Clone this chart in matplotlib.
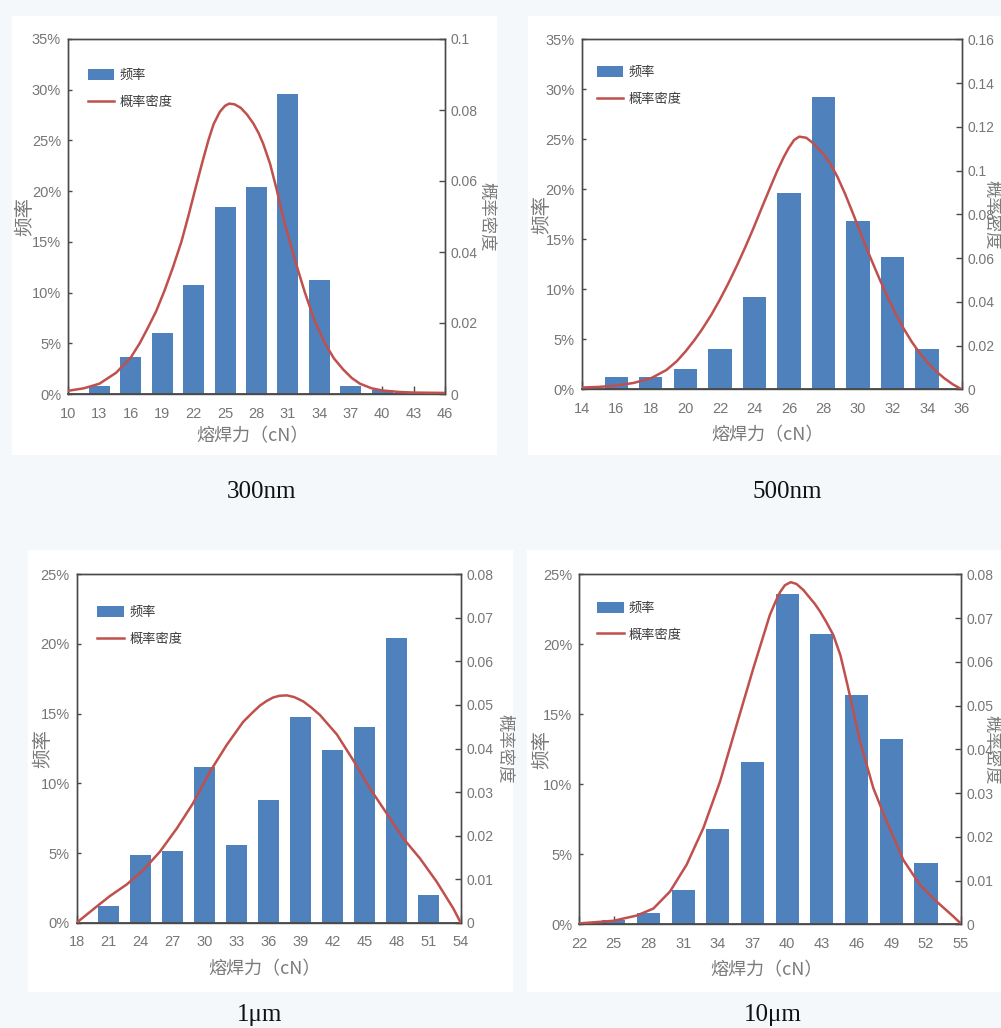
import matplotlib
matplotlib.use("Agg")
import matplotlib.pyplot as plt
from matplotlib.patches import Rectangle
from matplotlib import font_manager
from matplotlib.ticker import FuncFormatter

# ---------------- data ----------------
# 300nm
p1_ticks = [10, 13, 16, 19, 22, 25, 28, 31, 34, 37, 40, 43, 46]
p1_bar_x = [13, 16, 19, 22, 25, 28, 31, 34, 37, 40]
p1_bar_pct = [0.8, 3.6, 6.05, 10.75, 18.4, 20.4, 29.6, 11.2, 0.8, 0.4]
p1_curve_x = [10, 11.5, 13.0, 14.6, 16.0, 16.85, 17.6, 18.4, 19.2, 20.0, 20.83, 21.5, 22.1,
              22.8, 23.4, 23.9, 24.5, 25.0, 25.4, 25.9, 26.5, 27.1, 27.7, 28.2, 28.64, 29.3,
              29.91, 30.5, 31.18, 31.9, 32.62, 33.5, 34.53, 35.4, 36.28, 37.1, 37.88, 39.0,
              40, 41.5, 43, 46]
p1_curve_d = [0.0009, 0.0016, 0.0029, 0.0060, 0.0103, 0.0143, 0.0185, 0.0232, 0.0290, 0.0355,
              0.0429, 0.0502, 0.0571, 0.0650, 0.0714, 0.0760, 0.0795, 0.0812, 0.0818, 0.0816,
              0.0806, 0.0787, 0.0762, 0.0735, 0.0705, 0.0648, 0.0578, 0.0503, 0.0429, 0.0355,
              0.0286, 0.0210, 0.0143, 0.0100, 0.0069, 0.0045, 0.0029, 0.0016, 0.0010, 0.0006,
              0.0004, 0.0003]

# 500nm
p2_ticks = [14, 16, 18, 20, 22, 24, 26, 28, 30, 32, 34, 36]
p2_bar_x = [16, 18, 20, 22, 24, 26, 28, 30, 32, 34]
p2_bar_pct = [1.2, 1.2, 2.0, 4.0, 9.2, 19.6, 29.2, 16.8, 13.2, 4.0]
p2_curve_x = [14, 15, 16, 17, 18, 18.9, 19.5, 20.0, 20.5, 20.95, 21.5, 22.0, 22.5, 23.0, 23.5,
              23.95, 24.4, 24.9, 25.3, 25.7, 26.0, 26.3, 26.6, 27.0, 27.4, 28.0, 28.4, 28.8,
              29.25, 29.75, 30.2, 30.7, 31.2, 31.65, 32.1, 32.6, 33.1, 33.6, 34.0, 34.55,
              35.0, 35.5, 36]
p2_curve_d = [0.0008, 0.0011, 0.0017, 0.0029, 0.0050, 0.0088, 0.0128, 0.0172, 0.0222, 0.0272,
              0.0340, 0.0410, 0.0486, 0.0568, 0.0655, 0.0738, 0.0825, 0.0920, 0.0995, 0.1062,
              0.1105, 0.1140, 0.1155, 0.1150, 0.1125, 0.1075, 0.1030, 0.0972, 0.0893, 0.0795,
              0.0703, 0.0605, 0.0512, 0.0432, 0.0357, 0.0283, 0.0218, 0.0162, 0.0124, 0.0080,
              0.0050, 0.0022, 0.0]

# 1um
p3_ticks = [18, 21, 24, 27, 30, 33, 36, 39, 42, 45, 48, 51, 54]
p3_bar_x = [21, 24, 27, 30, 33, 36, 39, 42, 45, 48, 51]
p3_bar_pct = [1.2, 4.86, 5.17, 11.2, 5.57, 8.78, 14.78, 12.39, 14.07, 20.4, 1.99]
p3_curve_x = [18, 19.56, 21.1, 22.7, 24.25, 25.8, 27.4, 28.9, 30.5, 32.06, 33.6, 34.5, 35.2,
              35.8, 36.4, 37.0, 37.7, 38.4, 39.25, 40.0, 40.8, 42.4, 43.9, 45.5, 47.06, 48.6,
              50.2, 51.75, 53.3, 54]
p3_curve_d = [0.0, 0.0031, 0.0061, 0.0088, 0.0121, 0.0163, 0.0217, 0.0274, 0.0347, 0.0408,
              0.0461, 0.0483, 0.0499, 0.0509, 0.0517, 0.0521, 0.0522, 0.0518, 0.0508, 0.0494,
              0.0477, 0.0432, 0.0374, 0.0308, 0.0251, 0.0194, 0.0147, 0.0094, 0.0033, 0.0]

# 10um
p4_ticks = [22, 25, 28, 31, 34, 37, 40, 43, 46, 49, 52, 55]
p4_bar_x = [25, 28, 31, 34, 37, 40, 43, 46, 49, 52]
p4_bar_pct = [0.33, 0.79, 2.45, 6.8, 11.57, 23.57, 20.74, 16.38, 13.21, 4.36]
p4_curve_x = [22, 24.97, 26.99, 28.43, 29.87, 31.3, 32.75, 34.19, 35.63, 37.07, 38.5, 39.0,
              39.4, 39.8, 40.3, 40.8, 41.4, 41.9, 42.4, 42.84, 43.4, 43.99, 44.6, 45.14, 45.7,
              46.29, 47.45, 48.6, 50.04, 51.48, 52.92, 54.36, 55]
p4_curve_d = [0.0002, 0.0008, 0.0020, 0.0036, 0.0075, 0.0136, 0.0220, 0.0326, 0.0456, 0.0585,
              0.0707, 0.0738, 0.0760, 0.0775, 0.0782, 0.0778, 0.0764, 0.0748, 0.0732, 0.0715,
              0.0690, 0.0661, 0.0615, 0.0555, 0.0490, 0.0418, 0.0311, 0.0235, 0.0147, 0.0090,
              0.0052, 0.0018, 0.0002]

left_ticks_35 = [0, 5, 10, 15, 20, 25, 30, 35]
left_ticks_25 = [0, 5, 10, 15, 20, 25]
right_ticks_p1 = [0, 0.02, 0.04, 0.06, 0.08, 0.1]
right_ticks_p2 = [0, 0.02, 0.04, 0.06, 0.08, 0.1, 0.12, 0.14, 0.16]
right_ticks_p34 = [0, 0.01, 0.02, 0.03, 0.04, 0.05, 0.06, 0.07, 0.08]

captions = ["300nm", "500nm", "1μm", "10μm"]
legend_labels = ["频率", "概率密度"]
xlabel_text = "熔焊力（cN）"
ylabel_left = "频率"
ylabel_right = "概率密度"

# ---------------- style ----------------
W, H = 1001, 1028
avail = {f.name for f in font_manager.fontManager.ttflist}
num_font = next((f for f in ["Liberation Sans Narrow", "DejaVu Sans Condensed",
                             "Liberation Sans"] if f in avail), "DejaVu Sans")
CJK = "Noto Sans CJK SC"
plt.rcParams["font.family"] = [num_font, CJK, "DejaVu Sans"]

BAR = "#4f81bd"
LINE = "#c0504d"
TICKC = "#767676"
TITLEC = "#7a7a7a"
SPINE = "#4a4a4a"

fig = plt.figure(figsize=(W / 100, H / 100), dpi=100)
fig.patch.set_facecolor("#f4f8fb")

panels = [(12, 16, 497, 455), (528, 16, 1001, 455), (28, 550, 513, 992), (527, 550, 1001, 992)]
for (x0, y0, x1, y1) in panels:
    fig.add_artist(Rectangle((x0 / W, 1 - y1 / H), (x1 - x0) / W, (y1 - y0) / H,
                             transform=fig.transFigure, facecolor="white",
                             edgecolor="none", zorder=0))

axes_px = [(68, 39, 445, 394), (581.7, 39.3, 961.7, 389.3),
           (76.7, 574.3, 460.7, 922.7), (579, 574.3, 960.7, 924.3)]

specs = [
    dict(ticks=p1_ticks, bx=p1_bar_x, by=p1_bar_pct, cx=p1_curve_x, cy=p1_curve_d, bw=2.0,
         lt=left_ticks_35, rt=right_ticks_p1, ylab=(-0.114, 1.111), leg=(0.053, 0.916),
         xlab=-0.118),
    dict(ticks=p2_ticks, bx=p2_bar_x, by=p2_bar_pct, cx=p2_curve_x, cy=p2_curve_d, bw=1.35,
         lt=left_ticks_35, rt=right_ticks_p2, ylab=(-0.105, 1.078), leg=(0.040, 0.923),
         xlab=-0.131),
    dict(ticks=p3_ticks, bx=p3_bar_x, by=p3_bar_pct, cx=p3_curve_x, cy=p3_curve_d, bw=1.95,
         lt=left_ticks_25, rt=right_ticks_p34, ylab=(-0.089, 1.113), leg=(0.054, 0.910),
         xlab=-0.135),
    dict(ticks=p4_ticks, bx=p4_bar_x, by=p4_bar_pct, cx=p4_curve_x, cy=p4_curve_d, bw=2.0,
         lt=left_ticks_25, rt=right_ticks_p34, ylab=(-0.098, 1.082), leg=(0.048, 0.922),
         xlab=-0.131),
]

for (l, t, r, b), s in zip(axes_px, specs):
    ax = fig.add_axes([l / W, 1 - b / H, (r - l) / W, (b - t) / H])
    ax.set_facecolor("white")
    bars = ax.bar(s["bx"], s["by"], width=s["bw"], color=BAR, zorder=2)
    ax.set_xlim(s["ticks"][0], s["ticks"][-1])
    ax.set_xticks(s["ticks"])
    ax.set_ylim(s["lt"][0], s["lt"][-1])
    ax.set_yticks(s["lt"])
    ax.yaxis.set_major_formatter(FuncFormatter(lambda v, p: f"{v:g}%"))
    ax.tick_params(axis="x", direction="in", length=6, width=1, color=SPINE,
                   labelcolor=TICKC, labelsize=10.5, pad=9)
    ax.tick_params(axis="y", direction="in", length=3, width=1, color=SPINE,
                   labelcolor=TICKC, labelsize=10.5, pad=5)
    for sp in ax.spines.values():
        sp.set_color(SPINE)
        sp.set_linewidth(1.0)
    ax.spines["bottom"].set_linewidth(1.3)

    ax2 = ax.twinx()
    line, = ax2.plot(s["cx"], s["cy"], color=LINE, lw=1.8, zorder=3,
                     solid_joinstyle="round")
    ax2.set_ylim(s["rt"][0], s["rt"][-1])
    ax2.set_yticks(s["rt"])
    ax2.yaxis.set_major_formatter(FuncFormatter(lambda v, p: f"{v:g}"))
    ax2.tick_params(axis="y", direction="in", length=4, width=1, color=SPINE,
                    labelcolor=TICKC, labelsize=10, pad=4)
    for sp in ax2.spines.values():
        sp.set_color(SPINE)
        sp.set_linewidth(1.0)

    ax.set_xlabel(xlabel_text, family=[CJK], fontsize=13, color=TITLEC)
    ax.xaxis.set_label_coords(0.49, s["xlab"])
    ax.xaxis.label.set_va("center")
    ax.set_ylabel(ylabel_left, family=[CJK], fontsize=14, color=TITLEC)
    ax.yaxis.set_label_coords(s["ylab"][0], 0.5)
    ax.yaxis.label.set_va("center")
    ax2.set_ylabel(ylabel_right, family=[CJK], fontsize=12.5, color=TITLEC, rotation=270)
    ax2.yaxis.set_label_coords(s["ylab"][1], 0.5)
    ax2.yaxis.label.set_va("center")

    ax2.legend([bars, line], legend_labels, loc="upper left", bbox_to_anchor=s["leg"],
               frameon=False, prop={"family": CJK, "size": 9.5}, labelcolor="#3a3a3a",
               handlelength=2.0, handleheight=0.9, handletextpad=0.4, labelspacing=1.05,
               borderpad=0, borderaxespad=0)

cap_pos = [(262, 492), (787, 492), (260, 1015), (773, 1015)]
for (cx, cy), txt in zip(cap_pos, captions):
    fig.text(cx / W, 1 - cy / H, txt, family=["Liberation Serif", "DejaVu Serif"],
             fontsize=18, ha="center", va="center", color="#111111")

fig.savefig("out.png", dpi=100, facecolor=fig.get_facecolor())
